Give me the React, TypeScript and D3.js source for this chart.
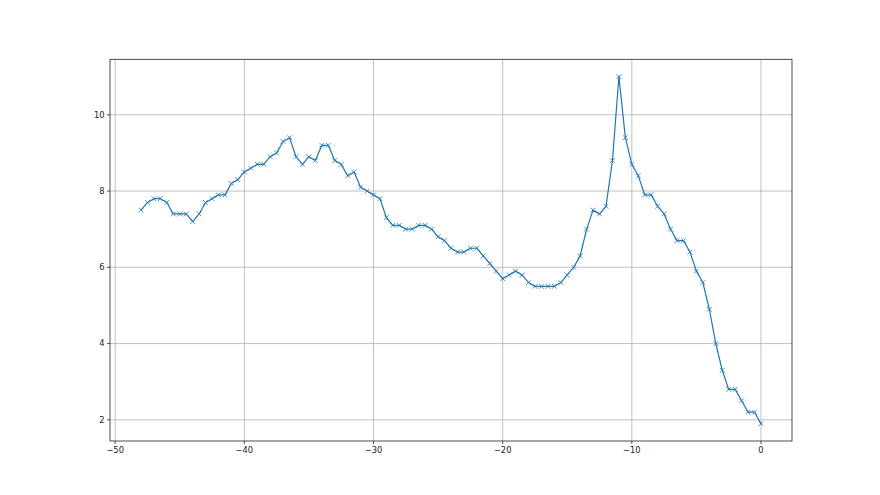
import React from "react";
import * as d3 from "d3";

const xValues: number[] = [
  -48, -47.5, -47, -46.5, -46, -45.5, -45, -44.5, -44, -43.5, -43, -42.5, -42, -41.5, -41, -40.5,
  -40, -39.5, -39, -38.5, -38, -37.5, -37, -36.5, -36, -35.5, -35, -34.5, -34, -33.5, -33, -32.5,
  -32, -31.5, -31, -30.5, -30, -29.5, -29, -28.5, -28, -27.5, -27, -26.5, -26, -25.5, -25, -24.5,
  -24, -23.5, -23, -22.5, -22, -21.5, -21, -20.5, -20, -19.5, -19, -18.5, -18, -17.5, -17, -16.5,
  -16, -15.5, -15, -14.5, -14, -13.5, -13, -12.5, -12, -11.5, -11, -10.5, -10, -9.5, -9, -8.5,
  -8, -7.5, -7, -6.5, -6, -5.5, -5, -4.5, -4, -3.5, -3, -2.5, -2, -1.5, -1, -0.5, 0,
];

const yValues: number[] = [
  7.5, 7.7, 7.8, 7.8, 7.7, 7.4, 7.4, 7.4, 7.2, 7.4, 7.7, 7.8, 7.9, 7.9, 8.2, 8.3,
  8.5, 8.6, 8.7, 8.7, 8.9, 9.0, 9.3, 9.4, 8.9, 8.7, 8.9, 8.8, 9.2, 9.2, 8.8, 8.7,
  8.4, 8.5, 8.1, 8.0, 7.9, 7.8, 7.3, 7.1, 7.1, 7.0, 7.0, 7.1, 7.1, 7.0, 6.8, 6.7,
  6.5, 6.4, 6.4, 6.5, 6.5, 6.3, 6.1, 5.9, 5.7, 5.8, 5.9, 5.8, 5.6, 5.5, 5.5, 5.5,
  5.5, 5.6, 5.8, 6.0, 6.3, 7.0, 7.5, 7.4, 7.6, 8.8, 11.0, 9.4, 8.7, 8.4, 7.9, 7.9,
  7.6, 7.4, 7.0, 6.7, 6.7, 6.4, 5.9, 5.6, 4.9, 4.0, 3.3, 2.8, 2.8, 2.5, 2.2, 2.2, 1.9,
];

const xTicks: number[] = [-50, -40, -30, -20, -10, 0];
const yTicks: number[] = [2, 4, 6, 8, 10];

const W = 880;
const H = 495;
const left = 110;
const right = 792;
const top = 59.3;
const bottom = 441;

const fmt = (v: number) => (v < 0 ? "\u2212" + Math.abs(v) : String(v));

export default function App() {
  const xMin = d3.min(xValues)!;
  const xMax = d3.max(xValues)!;
  const yMin = d3.min(yValues)!;
  const yMax = d3.max(yValues)!;
  const xPad = (xMax - xMin) * 0.05;
  const yPad = (yMax - yMin) * 0.05;
  const x = d3.scaleLinear().domain([xMin - xPad, xMax + xPad]).range([left, right]);
  const y = d3.scaleLinear().domain([yMin - yPad, yMax + yPad]).range([bottom, top]);
  const pts = xValues.map((xv, i) => [xv, yValues[i]] as [number, number]);
  const line = d3
    .line<[number, number]>()
    .x((d) => x(d[0]))
    .y((d) => y(d[1]));
  const font = "'DejaVu Sans', sans-serif";
  const fs = 8.3;
  return (
    <div style={{ position: "absolute", left: 0, top: 0 }}>
      <svg width={W} height={H} style={{ display: "block", background: "#fff" }}>
        <rect x={0} y={0} width={W} height={H} fill="#fff" />
        <g>
          {xTicks.map((t) => (
            <line key={"gx" + t} x1={x(t)} x2={x(t)} y1={top} y2={bottom} stroke="#b0b0b0" strokeWidth={0.8} />
          ))}
          {yTicks.map((t) => (
            <line key={"gy" + t} x1={left} x2={right} y1={y(t)} y2={y(t)} stroke="#b0b0b0" strokeWidth={0.8} />
          ))}
        </g>
        <path d={line(pts) || ""} fill="none" stroke="#1f77b4" strokeWidth={1.2} strokeLinejoin="round" strokeLinecap="square" />
        <g stroke="#1f77b4" strokeWidth={0.8}>
          {pts.map((p, i) => {
            const cx = x(p[0]);
            const cy = y(p[1]);
            const r = 2.4;
            return (
              <g key={"m" + i}>
                <line x1={cx - r} y1={cy - r} x2={cx + r} y2={cy + r} />
                <line x1={cx - r} y1={cy + r} x2={cx + r} y2={cy - r} />
              </g>
            );
          })}
        </g>
        <rect x={left} y={top} width={right - left} height={bottom - top} fill="none" stroke="#222" strokeWidth={0.8} />
        {xTicks.map((t) => (
          <g key={"tx" + t}>
            <line x1={x(t)} x2={x(t)} y1={bottom} y2={bottom + 3} stroke="#222" strokeWidth={0.8} />
            <text x={x(t)} y={bottom + 5} dy="0.8em" textAnchor="middle" fontFamily={font} fontSize={fs} fill="#222">
              {fmt(t)}
            </text>
          </g>
        ))}
        {yTicks.map((t) => (
          <g key={"ty" + t}>
            <line x1={left - 3} x2={left} y1={y(t)} y2={y(t)} stroke="#222" strokeWidth={0.8} />
            <text x={left - 5.5} y={y(t)} dy="0.35em" textAnchor="end" fontFamily={font} fontSize={fs} fill="#222">
              {fmt(t)}
            </text>
          </g>
        ))}
      </svg>
    </div>
  );
}
